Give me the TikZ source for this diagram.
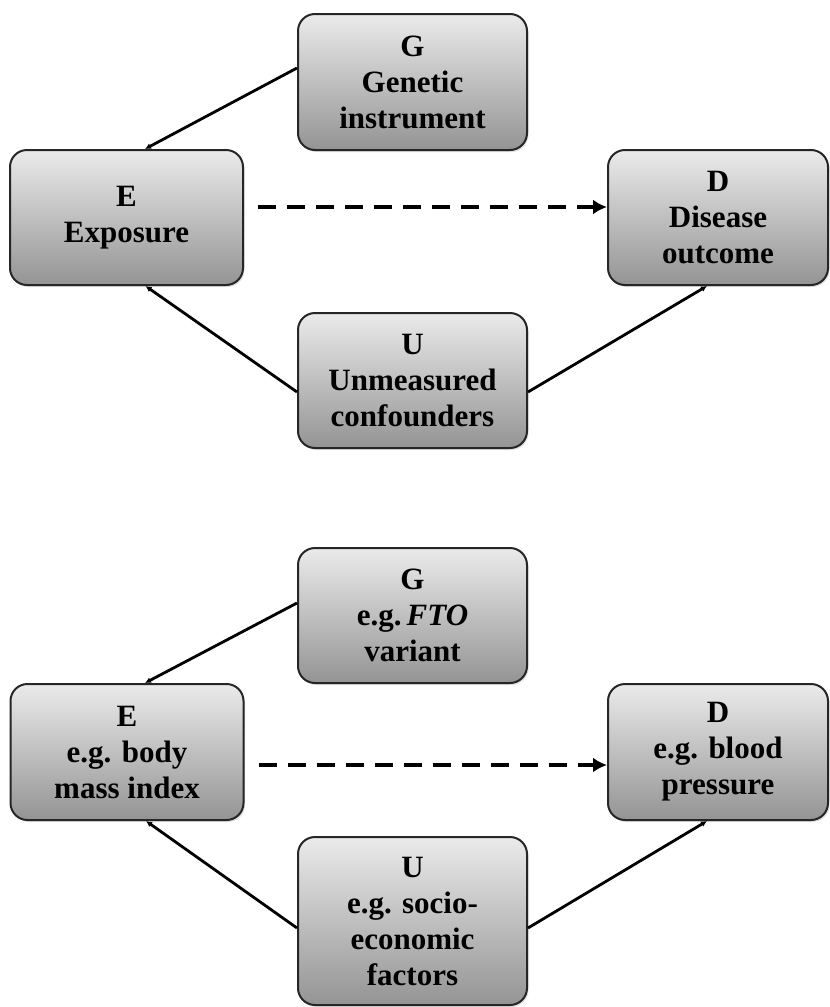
\documentclass[tikz,border=0pt]{standalone}
\usepackage{fontspec}
\setmainfont{Liberation Serif}
\usetikzlibrary{arrows.meta,shadows,calc}
\tikzset{
  box/.style={draw=black!85, line width=2pt, rounded corners=17pt,
    top color=black!8, bottom color=black!42,
    drop shadow={opacity=0.25, shadow xshift=1.5pt, shadow yshift=-2pt},
    align=center, inner sep=2pt,
    font={\fontsize{31}{36}\selectfont\bfseries}},
  link/.style={line width=2.8pt, -{Latex[length=6pt,width=6pt]}},
  causal/.style={line width=4pt, dash pattern=on 18pt off 11pt,
    -{Latex[length=14pt,width=15pt]}}
}
\begin{document}
\begin{tikzpicture}[x=1pt,y=-1pt]
\useasboundingbox (0,0) rectangle (830,1007);
% ---- top panel ----
\node[box, minimum width=229pt, minimum height=136pt] (G1) at (412.5,82) {G\\Genetic\\instrument};
\node[box, minimum width=233pt, minimum height=135pt] (E1) at (126.5,217.5) {E\\Exposure};
\node[box, minimum width=220pt, minimum height=135pt] (D1) at (718,217.5) {D\\Disease\\outcome};
\node[box, minimum width=229pt, minimum height=135pt] (U1) at (412.5,380.5) {U\\Unmeasured\\confounders};
\draw[link] ([yshift=14pt]G1.west) -- ([xshift=18.5pt]E1.north);
\draw[link] ([yshift=-11.5pt]U1.west) -- ([xshift=19pt]E1.south);
\draw[link] ([yshift=-11.5pt]U1.east) -- ([xshift=-11pt]D1.south);
\draw[causal] ([xshift=14pt,yshift=10.5pt]E1.east) -- ([yshift=10.5pt]D1.west);
% ---- bottom panel ----
\node[box, minimum width=229pt, minimum height=135pt] (G2) at (412.5,615.5) {G\\e.g.\,\textit{FTO}\\variant};
\node[box, minimum width=233pt, minimum height=136pt] (E2) at (127,752) {E\\e.g. body\\mass index};
\node[box, minimum width=220pt, minimum height=136pt] (D2) at (718,752) {D\\e.g. blood\\pressure};
\node[box, minimum width=229pt, minimum height=168pt] (U2) at (412.5,921) {U\\e.g. socio-\\economic\\factors};
\draw[link] ([yshift=12.5pt]G2.west) -- ([xshift=18pt]E2.north);
\draw[link] ([yshift=-7pt]U2.west) -- ([xshift=19pt]E2.south);
\draw[link] ([yshift=-7pt]U2.east) -- ([xshift=-11pt]D2.south);
\draw[causal] ([xshift=14pt,yshift=-13pt]E2.east) -- ([yshift=-13pt]D2.west);
\end{tikzpicture}
\end{document}
